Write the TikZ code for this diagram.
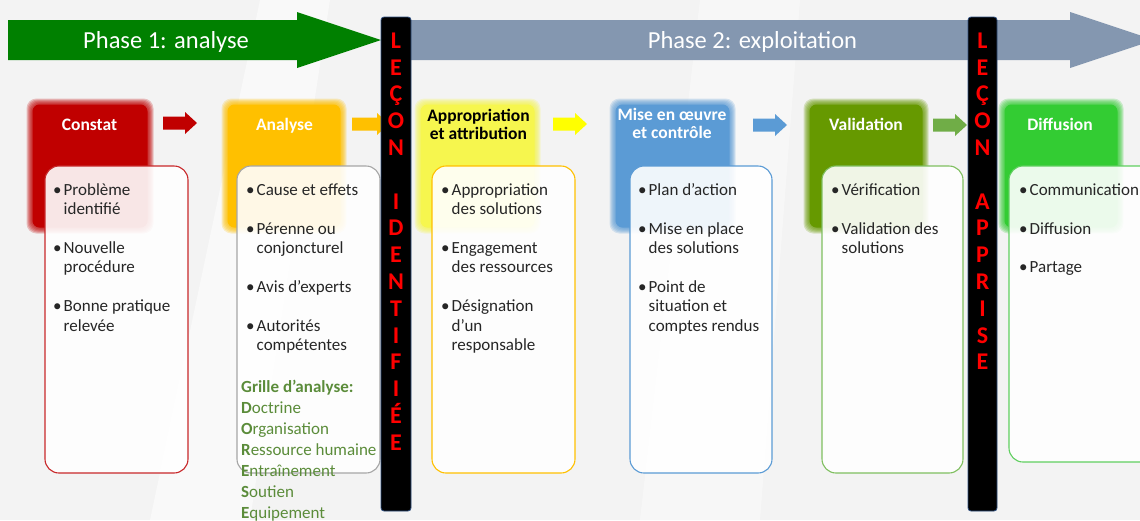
\documentclass[tikz,border=0pt]{standalone}
\usepackage{fontspec}
\setmainfont{Carlito}
\usetikzlibrary{calc}

\definecolor{bgcol}{HTML}{F3F3F3}
\definecolor{phaseone}{HTML}{008000}
\definecolor{phasetwo}{HTML}{8497B0}
\definecolor{cRed}{HTML}{C00000}
\definecolor{cOrange}{HTML}{FFC000}
\definecolor{cYellow}{HTML}{FFFF00}
\definecolor{cPaleYellow}{HTML}{F6F64E}
\definecolor{cBlue}{HTML}{5B9BD5}
\definecolor{cOlive}{HTML}{669900}
\definecolor{cLime}{HTML}{33CC33}
\definecolor{cArrowGreen}{HTML}{70AD47}
\definecolor{bRed}{HTML}{C8282A}
\definecolor{bGray}{HTML}{A6A6A6}
\definecolor{bOrange}{HTML}{FFC000}
\definecolor{bBlue}{HTML}{5B9BD5}
\definecolor{bGreen}{HTML}{7FBF5F}
\definecolor{bLime}{HTML}{5FCF5F}
\definecolor{txt}{HTML}{262626}
\definecolor{grille}{HTML}{5B8C3A}
\definecolor{lessonred}{HTML}{FF0000}
\definecolor{barline}{HTML}{2F4F7F}

\newcommand\bulmark{\makebox[10.5pt][l]{\textbullet}}
\newcommand\itemcont{\hspace*{10.5pt}}
\newcommand\fst{\rule{0pt}{14pt}}
\newcommand\blankline{\mbox{}}

% block arrow between two header boxes: x start, x end, y centre, colour
\newcommand\blockarrow[4]{%
  \fill[#4] (#1,#3-6.5) -- (#2-12,#3-6.5) -- (#2-12,#3-11) -- (#2,#3)
    -- (#2-12,#3+11) -- (#2-12,#3+6.5) -- (#1,#3+6.5) -- cycle;}

\tikzset{
  phasetext/.style={text=white, font=\fontsize{24.5}{28}\selectfont, inner sep=0, anchor=base},
  headbox/.style={rounded corners=7pt, inner sep=0, draw=none},
  headtitle/.style={text=white, font=\fontsize{17.5}{18}\selectfont\bfseries, inner sep=0, align=center},
  contentbox/.style={line width=1.1pt, rounded corners=14pt, fill=white, fill opacity=0.9, inner sep=0},
  itemlist/.style={anchor=north west, inner sep=0, align=left, text=txt, font=\fontsize{17}{19.4}\selectfont},
  grilletext/.style={anchor=north west, inner sep=0, align=left, text=grille, font=\fontsize{17}{21}\selectfont},
  lessonbar/.style={fill=black, draw=barline, line width=0.8pt, rounded corners=3pt, inner sep=0},
  lessontext/.style={anchor=north, inner sep=0, align=center, text=lessonred, font=\fontsize{24}{26.8}\selectfont\bfseries},
}

\begin{document}
\begin{tikzpicture}[x=1pt,y=-1pt]
  \useasboundingbox (0,0) rectangle (1140,520);
  \clip (0,0) rectangle (1140,520);
  \fill[bgcol] (0,0) rectangle (1140,520);
  % faint lighter streaks in the backdrop
  \fill[white, opacity=0.5] (260,0) -- (330,0) -- (250,520) -- (150,520) -- cycle;
  \fill[white, opacity=0.4] (700,0) -- (800,0) -- (760,520) -- (640,520) -- cycle;

  % phase arrows
  \fill[phaseone] (8,20) -- (297,20) -- (297,12) -- (381,40) -- (297,68) -- (297,60) -- (8,60) -- cycle;
  \node[phasetext] (phase1) at (166,48) {Phase 1: analyse};
  \fill[phasetwo] (400,20) -- (1070,20) -- (1070,12) -- (1154,40) -- (1070,68) -- (1070,60) -- (400,60) -- cycle;
  \node[phasetext] (phase2) at (752.5,48) {Phase 2: exploitation};

  % arrows between the headers
  \blockarrow{163}{197}{123}{cRed}
  \blockarrow{352}{389}{124}{cOrange}
  \blockarrow{553}{587}{124}{cYellow}
  \blockarrow{753}{787}{125}{cBlue}
  \blockarrow{933}{967}{125}{cArrowGreen}

  % header boxes with a soft edge
  \foreach \nm/\col/\xa/\xb in {constat/cRed/30/150, analyse/cOrange/225/343, approp/cPaleYellow/418/537,
                                mise/cBlue/613/732, valid/cOlive/807/925, diffu/cLime/1002/1120} {
    \foreach \d in {3.5,2.5,1.5,0.5,-0.5,-1.5}
      \fill[\col, opacity=0.22, rounded corners=10pt] (\xa-\d,102-\d) rectangle (\xb+\d,230+\d);
    \node[headbox, fill=\col, minimum width=\xb-\xa-5, minimum height=123] (\nm) at ({(\xa+\xb)/2},166) {};
  }

  % header titles
  \node[headtitle, anchor=base] (constat-t) at (89.5,130) {Constat};
  \node[headtitle, anchor=base] (analyse-t) at (284.5,130) {Analyse};
  \node[headtitle, anchor=north, text=black, font=\fontsize{17.5}{18.5}\selectfont\bfseries] (approp-t) at (478.5,107)
    {\rule{0pt}{14pt}Appropriation\\et attribution};
  \node[headtitle, anchor=north, font=\fontsize{17.5}{18.5}\selectfont\bfseries] (mise-t) at (672,106)
    {\rule{0pt}{14pt}Mise en œuvre\\et contrôle};
  \node[headtitle, anchor=base] (valid-t) at (866,130) {Validation};
  \node[headtitle, anchor=base] (diffu-t) at (1060,130) {Diffusion};

  % content boxes
  \node[contentbox, draw=bRed,    minimum width=143, minimum height=307] (box1) at (116.5,319.5) {};
  \node[contentbox, draw=bGray,   minimum width=143, minimum height=307] (box2) at (308.5,319.5) {};
  \node[contentbox, draw=bOrange, minimum width=143, minimum height=307] (box3) at (503.5,319.5) {};
  \node[contentbox, draw=bBlue,   minimum width=142, minimum height=307] (box4) at (701,319.5) {};
  \node[contentbox, draw=bGreen,  minimum width=141, minimum height=307] (box5) at (892.5,319.5) {};
  \node[contentbox, draw=bLime,   minimum width=151, minimum height=296] (box6) at (1084.5,314) {};

  % bullet lists
  \node[itemlist] (list1) at (53,181) {\fst\bulmark Problème\\\itemcont identifié\\\blankline\\
    \bulmark Nouvelle\\\itemcont procédure\\\blankline\\\bulmark Bonne pratique\\\itemcont relevée};
  \node[itemlist] (list2) at (246,181) {\fst\bulmark Cause et effets\\\blankline\\
    \bulmark Pérenne ou\\\itemcont conjoncturel\\\blankline\\\bulmark Avis d’experts\\\blankline\\
    \bulmark Autorités\\\itemcont compétentes};
  \node[grilletext] (grille) at (241,378) {\fst\textbf{Grille d’analyse:}\\\textbf{D}octrine\\
    \textbf{O}rganisation\\\textbf{R}essource humaine\\\textbf{E}ntraînement\\\textbf{S}outien\\\textbf{E}quipement};
  \node[itemlist] (list3) at (441,181) {\fst\bulmark Appropriation\\\itemcont des solutions\\\blankline\\
    \bulmark Engagement\\\itemcont des ressources\\\blankline\\
    \bulmark Désignation\\\itemcont d’un\\\itemcont responsable};
  \node[itemlist] (list4) at (638,181) {\fst\bulmark Plan d’action\\\blankline\\
    \bulmark Mise en place\\\itemcont des solutions\\\blankline\\
    \bulmark Point de\\\itemcont situation et\\\itemcont comptes rendus};
  \node[itemlist] (list5) at (831,181) {\fst\bulmark Vérification\\\blankline\\
    \bulmark Validation des\\\itemcont solutions};
  \node[itemlist] (list6) at (1019,181) {\fst\bulmark Communication\\\blankline\\
    \bulmark Diffusion\\\blankline\\\bulmark Partage};

  % lesson bars
  \node[lessonbar, minimum width=30, minimum height=494] (bar1) at (396,264) {};
  \node[lessonbar, minimum width=29, minimum height=494] (bar2) at (982.5,264) {};
  \node[lessontext] (lesson1) at (396,31)
    {\rule{0pt}{17pt}L\\E\\Ç\\O\\N\\\blankline\\I\\D\\E\\N\\T\\I\\F\\I\\É\\E};
  \node[lessontext] (lesson2) at (982.5,31)
    {\rule{0pt}{17pt}L\\E\\Ç\\O\\N\\\blankline\\A\\P\\P\\R\\I\\S\\E};
\end{tikzpicture}
\end{document}
